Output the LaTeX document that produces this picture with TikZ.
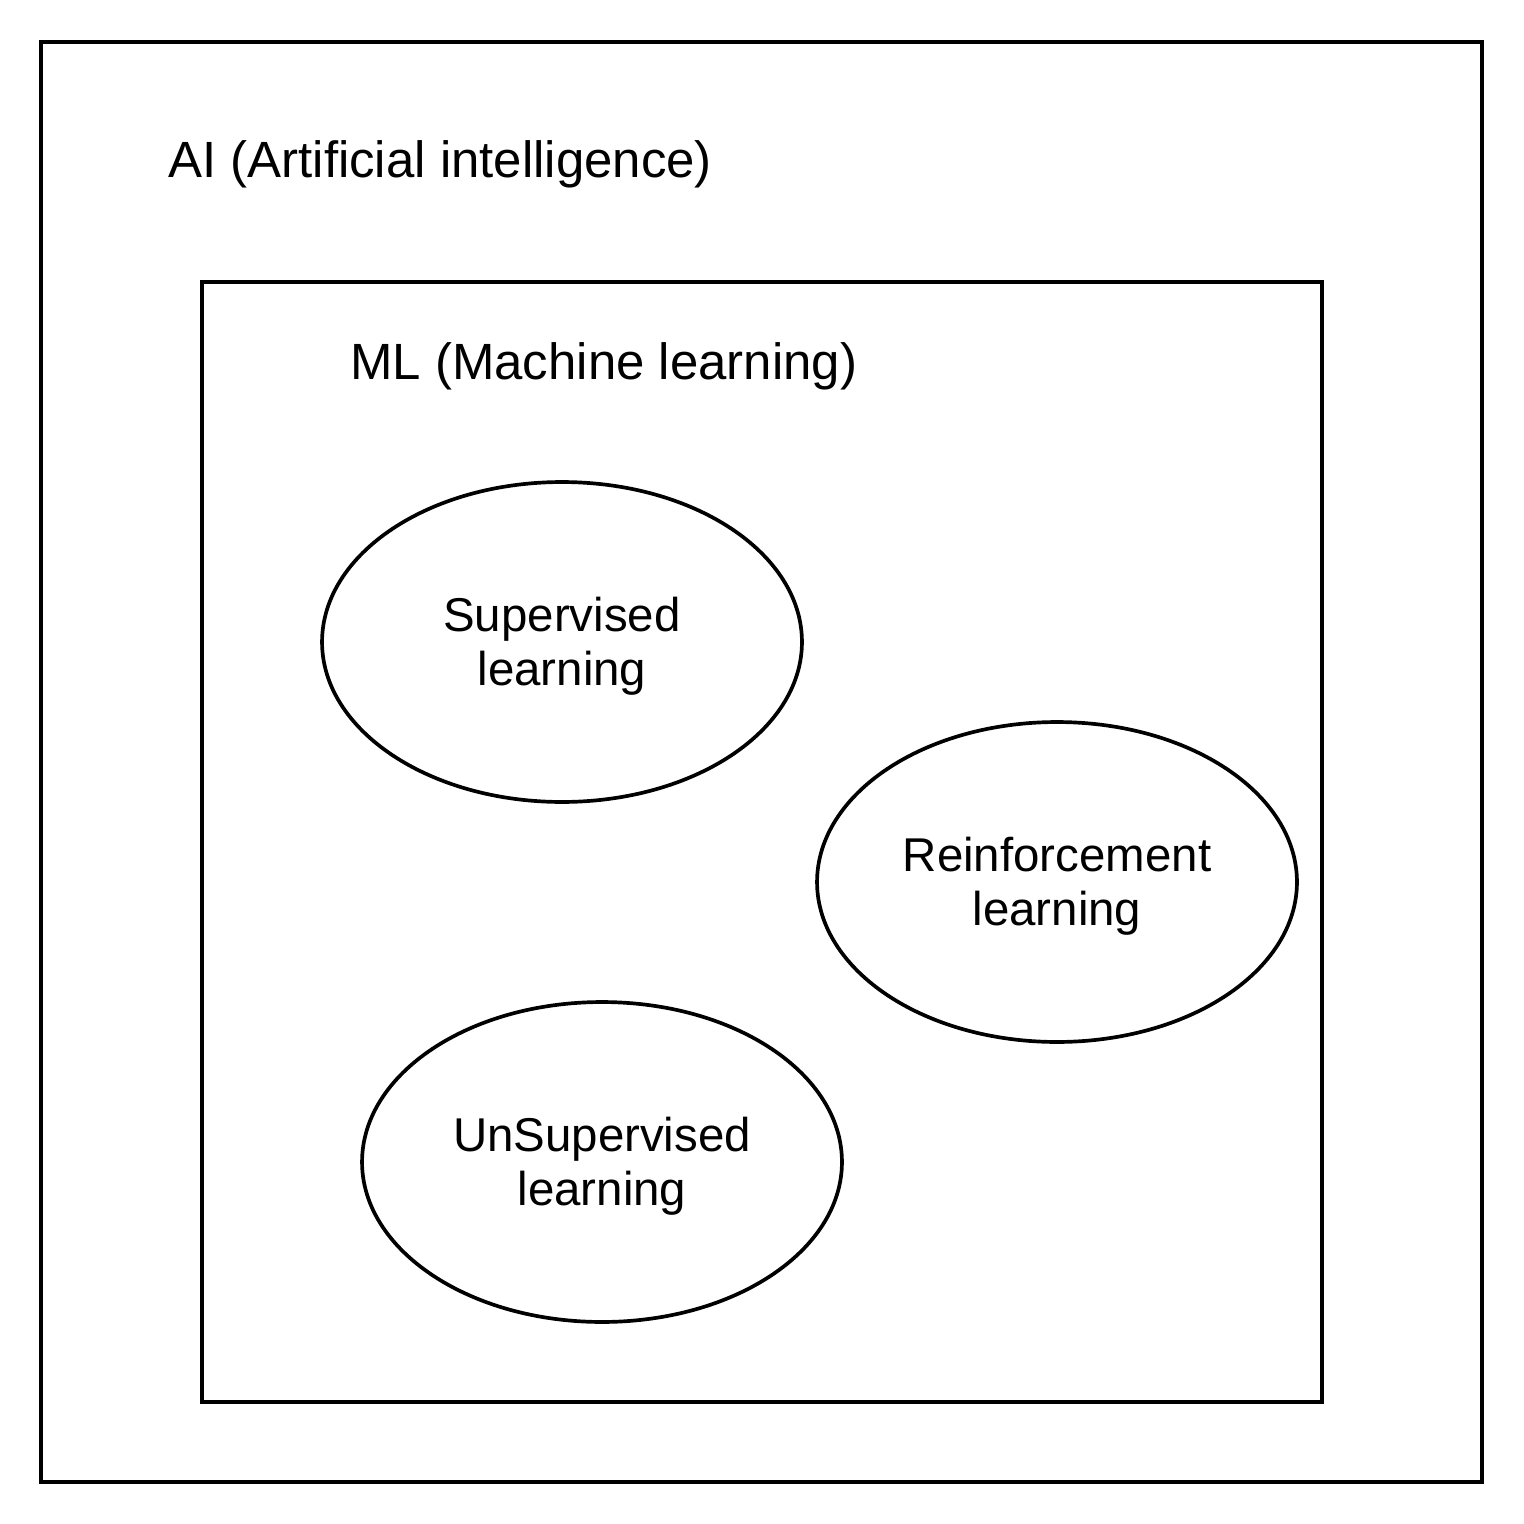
\documentclass[tikz,border=0pt]{standalone}
\usepackage{fontspec}
\setmainfont{Liberation Sans}
\usetikzlibrary{shapes.geometric}
\begin{document}
\begin{tikzpicture}[x=0.02cm,y=-0.02cm,
  box/.style={draw=black,line width=2.1pt},
  oval/.style={draw=black,line width=2.1pt,ellipse,minimum width=9.6cm,minimum height=6.4cm,inner sep=0pt,align=center,font=\fontsize{27}{31.2}\selectfont},
  title/.style={anchor=west,inner sep=0pt,font=\fontsize{29}{34}\selectfont}]
\useasboundingbox[fill=white] (0,0) rectangle (1524,1524);
\draw[box] (41,42) rectangle (1482,1482);
\draw[box] (202,282) rectangle (1322,1402);
\node[title] (ai) at (168,164) {AI (Artificial intelligence)};
\node[title] (ml) at (350,366) {ML (Machine learning)};
\node[oval] (sup) at (562,642) {\rule{0pt}{0.9em}Supervised\\learning};
\node[oval] (rein) at (1057,882) {\rule{0pt}{0.9em}Reinforcement\\learning};
\node[oval] (unsup) at (602,1162) {\rule{0pt}{0.9em}UnSupervised\\learning};
\end{tikzpicture}
\end{document}
